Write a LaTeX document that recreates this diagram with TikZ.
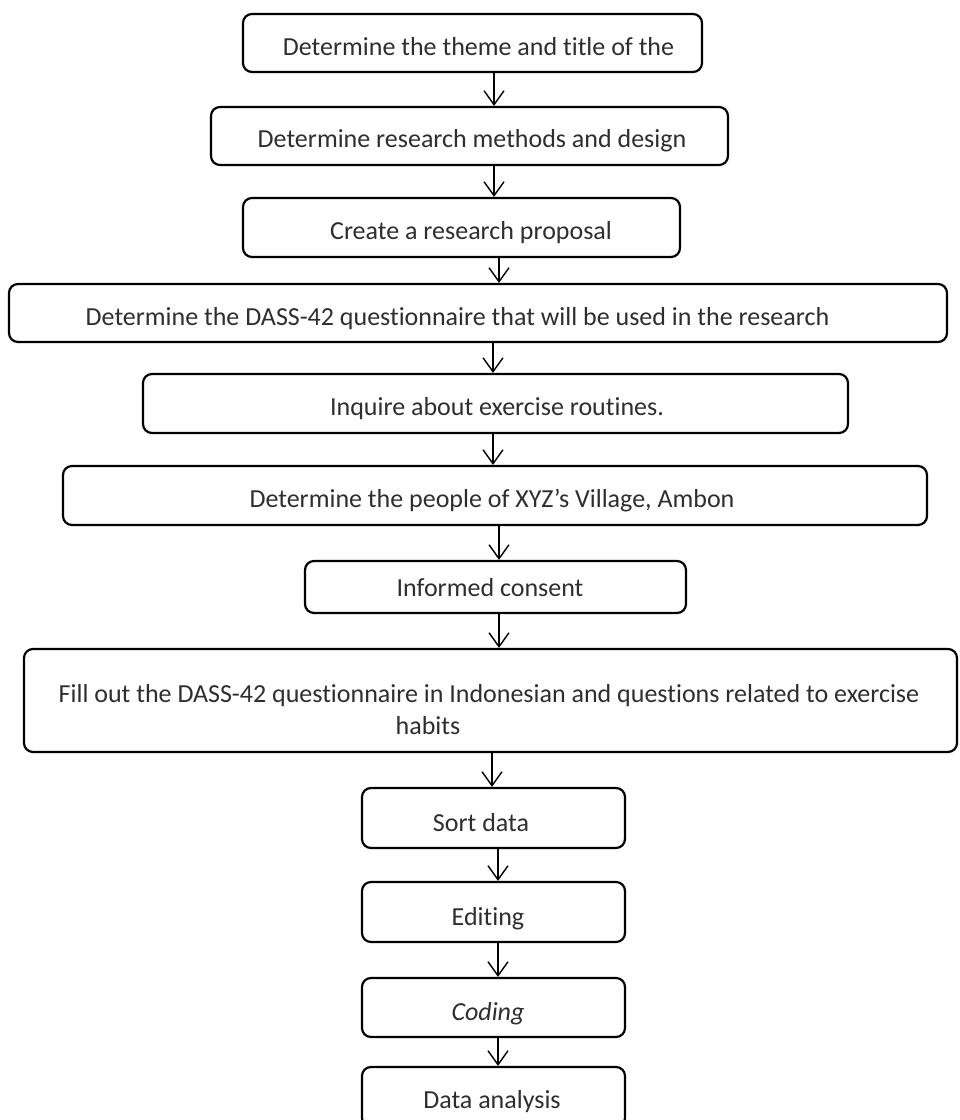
\documentclass[tikz,border=0pt]{standalone}
\usepackage{fontspec}
\setmainfont{Carlito}[Ligatures=NoCommon]
\usetikzlibrary{arrows.meta}
\begin{document}
\begin{tikzpicture}[x=1pt,y=-1pt,
  box/.style={draw=black, line width=2.2pt, rounded corners=9pt, inner sep=0pt},
  lbl/.style={anchor=base, inner sep=0pt, text=black!82, font=\fontsize{26}{30}\selectfont},
  arr/.style={line width=1.4pt, -{Straight Barb[length=14pt,width=20pt,line width=1.4pt]}}]
\clip (0,0) rectangle (960,1120);
% boxes
\node[box, minimum width=459pt, minimum height=58pt] (b1) at (472.5,43) {};
\node[box, minimum width=517pt, minimum height=58pt] (b2) at (469.5,136) {};
\node[box, minimum width=437pt, minimum height=59pt] (b3) at (461.5,227.5) {};
\node[box, minimum width=938pt, minimum height=58pt] (b4) at (478,313) {};
\node[box, minimum width=705pt, minimum height=59pt] (b5) at (495.5,403.5) {};
\node[box, minimum width=864pt, minimum height=59pt] (b6) at (495,495.5) {};
\node[box, minimum width=381pt, minimum height=52pt] (b7) at (495.5,587) {};
\node[box, minimum width=933pt, minimum height=103pt] (b8) at (490.5,700.5) {};
\node[box, minimum width=263pt, minimum height=60pt] (b9) at (493.5,818) {};
\node[box, minimum width=263pt, minimum height=60pt] (b10) at (493.5,912) {};
\node[box, minimum width=263pt, minimum height=59pt] (b11) at (493.5,1007.5) {};
\node[box, minimum width=263pt, minimum height=60pt] (b12) at (493.5,1097) {};
% texts
\node[lbl] (t1) at (478.5,55) {Determine the theme and title of the};
\node[lbl] (t2) at (472,147) {Determine research methods and design};
\node[lbl] (t3) at (471,239) {Create a research proposal};
\node[lbl] (t4) at (457.5,325) {Determine the DASS-42 questionnaire that will be used in the research};
\node[lbl] (t5) at (497,415) {Inquire about exercise routines.};
\node[lbl] (t6) at (492,507) {Determine the people of XYZ’s Village, Ambon};
\node[lbl] (t7) at (490,596) {Informed consent};
\node[lbl] (t8a) at (489,702) {Fill out the DASS-42 questionnaire in Indonesian and questions related to exercise};
\node[lbl] (t8b) at (428,734) {habits};
\node[lbl] (t9) at (481,831) {Sort data};
\node[lbl] (t10) at (488,925) {Editing};
\node[lbl] (t11) at (488,1020) {\itshape Coding};
\node[lbl] (t12) at (492,1108) {Data analysis};
% connectors
\draw[arr] (b1.south -| 494,0) -- (b2.north -| 494,0);
\draw[arr] (b2.south -| 494,0) -- (b3.north -| 494,0);
\draw[arr] (b3.south -| 499,0) -- (b4.north -| 499,0);
\draw[arr] (b4.south -| 493,0) -- (b5.north -| 493,0);
\draw[arr] (b5.south -| 493,0) -- (b6.north -| 493,0);
\draw[arr] (b6.south -| 499,0) -- (b7.north -| 499,0);
\draw[arr] (b7.south -| 499,0) -- (b8.north -| 499,0);
\draw[arr] (b8.south -| 492,0) -- (b9.north -| 492,0);
\draw[arr] (b9.south -| 498,0) -- (b10.north -| 498,0);
\draw[arr] (b10.south -| 498,0) -- (b11.north -| 498,0);
\draw[arr] (b11.south -| 498,0) -- (b12.north -| 498,0);
\end{tikzpicture}
\end{document}
